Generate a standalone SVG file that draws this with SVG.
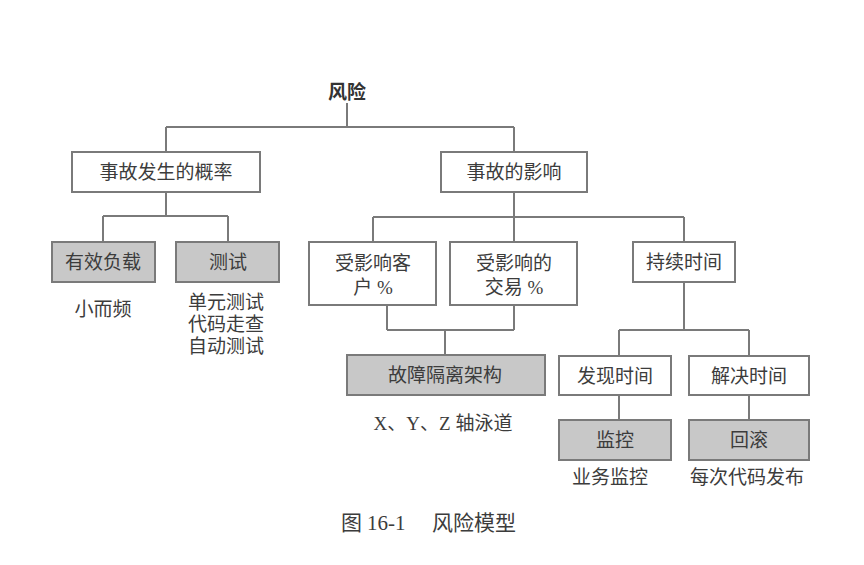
<svg xmlns="http://www.w3.org/2000/svg" width="864" height="565" viewBox="0 0 864 565">
<style>
.bg{fill:#fff}
.box{fill:#fff;stroke:#7a7a7a;stroke-width:2}
.g{fill:#c8c8c8}
.t{font-family:"Liberation Serif","Noto Sans CJK SC",serif;font-size:19px;fill:#3c3c3c;text-anchor:middle;dominant-baseline:central}
.b{font-family:"Liberation Sans","Noto Sans CJK SC",sans-serif;font-size:19px;font-weight:bold;fill:#333}
.ln{fill:none;stroke:#7a7a7a;stroke-width:2}
.cap{font-size:21px;text-anchor:start}
</style>
<rect class="bg" x="0" y="0" width="864" height="565"/>
<g id="connectors">
<path class="ln" d="M347,103V127M166,127H514M166,127V152M514,127V152"/>
<path class="ln" d="M166,192V216M103,216H228M103,216V242M228,216V242"/>
<path class="ln" d="M514,192V242M373,217H684M373,217V242M684,217V242"/>
<path class="ln" d="M387,305V330M514,305V330M387,330H514M445,330V355"/>
<path class="ln" d="M684,282V330M619,330H749M619,330V356M749,330V356"/>
<path class="ln" d="M619,395V420M749,395V420"/>
</g>
<g id="root"><text class="t b" x="347" y="92">风险</text></g>
<g id="prob"><rect class="box" x="72" y="152" width="188" height="40"/><text class="t" x="166" y="172">事故发生的概率</text></g>
<g id="impact"><rect class="box" x="441" y="152" width="146" height="40"/><text class="t" x="514" y="172">事故的影响</text></g>
<g id="payload"><rect class="box g" x="52" y="242" width="103" height="40"/><text class="t" x="103" y="262">有效负载</text><text class="t" x="103" y="309">小而频</text></g>
<g id="test"><rect class="box g" x="176" y="242" width="103" height="40"/><text class="t" x="228" y="262">测试</text><text class="t" x="226" y="302">单元测试<tspan x="226" dy="22">代码走查</tspan><tspan x="226" dy="22">自动测试</tspan></text></g>
<g id="customers"><rect class="box" x="309" y="242" width="127" height="63"/><text class="t" x="373" y="263">受影响客<tspan x="373" dy="24">户 %</tspan></text></g>
<g id="transactions"><rect class="box" x="450" y="242" width="127" height="63"/><text class="t" x="514" y="263">受影响的<tspan x="514" dy="24">交易 %</tspan></text></g>
<g id="isolation"><rect class="box g" x="347" y="355" width="198" height="40"/><text class="t" x="445" y="375">故障隔离架构</text><text class="t" x="443" y="423">X、Y、Z 轴泳道</text></g>
<g id="duration"><rect class="box" x="633" y="242" width="102" height="40"/><text class="t" x="684" y="262">持续时间</text></g>
<g id="detect"><rect class="box" x="559" y="356" width="112" height="39"/><text class="t" x="615" y="376">发现时间</text></g>
<g id="resolve"><rect class="box" x="689" y="356" width="120" height="39"/><text class="t" x="749" y="376">解决时间</text></g>
<g id="monitor"><rect class="box g" x="559" y="420" width="112" height="40"/><text class="t" x="615" y="440">监控</text><text class="t" x="610" y="477">业务监控</text></g>
<g id="rollback"><rect class="box g" x="689" y="420" width="120" height="40"/><text class="t" x="749" y="440">回滚</text><text class="t" x="747" y="477">每次代码发布</text></g>
<g id="caption"><text class="t cap" x="341" y="523">图<tspan x="367">16-1</tspan><tspan x="432">风险模型</tspan></text></g>
</svg>
